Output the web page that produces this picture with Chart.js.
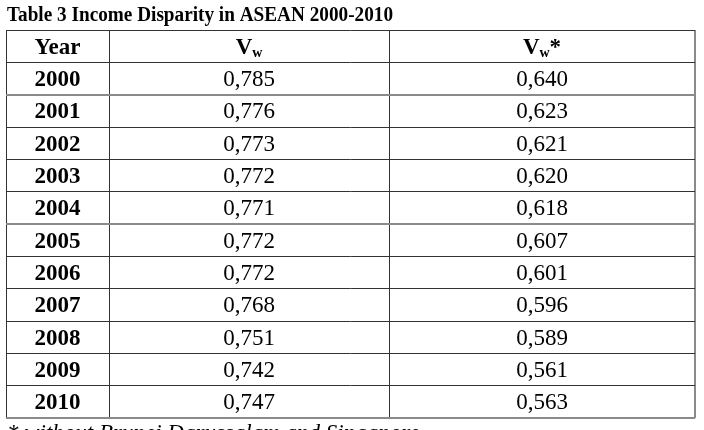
<!DOCTYPE html>
<html>
<head>
<meta charset="utf-8">
<script src="https://cdn.jsdelivr.net/npm/chart.js@4.4.1/dist/chart.umd.min.js"></script>
<style>
  html, body { margin: 0; padding: 0; background: #fff; }
  #wrap { width: 704px; height: 430px; position: relative; }
</style>
</head>
<body>
<div id="wrap"><canvas id="tbl"></canvas></div>
<script>
// ── Table data ───────────────────────────────────────────────────────────────
const TITLE    = 'Table 3 Income Disparity in ASEAN 2000-2010';
const FOOTNOTE = '* without Brunei Darussalam and Singapore';
const years    = ['2000','2001','2002','2003','2004','2005','2006','2007','2008','2009','2010'];
const vw       = [0.785, 0.776, 0.773, 0.772, 0.771, 0.772, 0.772, 0.768, 0.751, 0.742, 0.747];
const vwStar   = [0.640, 0.623, 0.621, 0.620, 0.618, 0.607, 0.601, 0.596, 0.589, 0.561, 0.563];

// column edges in x-scale units, rows are 1 unit each on y
const COL_EDGES = [0, 103, 383, 689];
const ROWS = years.length + 1;
const SERIF = '"Liberation Serif", "Times New Roman", serif';
const FS = 23;            // cell font size
const CAP = FS * 0.66;    // approx cap height

const colMid = c => (COL_EDGES[c] + COL_EDGES[c + 1]) / 2;
const fmt = v => v.toFixed(3).replace('.', ',');

function drawText(ctx, txt, x, y, font) {
  ctx.save();
  ctx.font = font;
  ctx.fillStyle = '#000';
  ctx.textAlign = 'center';
  ctx.textBaseline = 'alphabetic';
  ctx.fillText(txt, x, y + CAP / 2);
  ctx.restore();
}

// "V" + subscript "w" (+ optional "*")
function drawVw(ctx, x, y, star) {
  const big = `bold ${FS}px ${SERIF}`, small = `bold 14px ${SERIF}`;
  ctx.save();
  ctx.font = big;
  const wV = ctx.measureText('V').width;
  const wS = star ? ctx.measureText('*').width : 0;
  ctx.font = small;
  const wW = ctx.measureText('w').width;
  const x0 = x - (wV + wW + wS) / 2;
  const base = y + CAP / 2;
  ctx.fillStyle = '#000';
  ctx.textAlign = 'left';
  ctx.textBaseline = 'alphabetic';
  ctx.font = big;
  ctx.fillText('V', x0, base);
  ctx.font = small;
  ctx.fillText('w', x0 + wV, base + 3);
  if (star) { ctx.font = big; ctx.fillText('*', x0 + wV + wW, base); }
  ctx.restore();
}

const cellText = {
  id: 'cellText',
  afterDatasetsDraw(chart) {
    const ctx = chart.ctx;
    chart.data.datasets.forEach((ds, di) => {
      chart.getDatasetMeta(di).data.forEach((pt, i) => {
        const lab = ds.labels[i];
        if (lab === 'Vw' || lab === 'Vw*') drawVw(ctx, pt.x, pt.y, lab === 'Vw*');
        else drawText(ctx, lab, pt.x, pt.y, ds.font);
      });
    });
  },
  afterDraw(chart) {
    const ctx = chart.ctx;
    // title, fitted to the width it has in the scan
    ctx.save();
    ctx.fillStyle = '#000';
    ctx.font = `bold 20px ${SERIF}`;
    const sx = 386 / ctx.measureText(TITLE).width;
    ctx.translate(7, 21);
    ctx.scale(sx, 1);
    ctx.fillText(TITLE, 0, 0);
    ctx.restore();
    // footnote, cut off by the bottom edge
    ctx.save();
    ctx.fillStyle = '#000';
    ctx.font = `italic ${FS}px ${SERIF}`;
    ctx.fillText(FOOTNOTE, 7, 440);
    ctx.restore();
  },
};

const rowY = i => i + 1.5;
// the scan shows a few rules heavier and greyer than the rest
const HEAVY = [2, 6, 12];
const ruleColor = c => HEAVY.includes(c.tick.value) ? '#8a8a8a' : '#333';
const ruleWidth = c => HEAVY.includes(c.tick.value) ? 2 : 1;

new Chart(document.getElementById('tbl'), {
  type: 'scatter',
  data: {
    datasets: [
      {
        labels: ['Year', 'Vw', 'Vw*'],
        font: `bold ${FS}px ${SERIF}`,
        data: [0, 1, 2].map(c => ({ x: colMid(c), y: 0.5 })),
      },
      {
        labels: years,
        font: `bold ${FS}px ${SERIF}`,
        data: years.map((_, i) => ({ x: colMid(0), y: rowY(i) })),
      },
      {
        labels: vw.map(fmt),
        font: `${FS}px ${SERIF}`,
        data: vw.map((_, i) => ({ x: colMid(1), y: rowY(i) })),
      },
      {
        labels: vwStar.map(fmt),
        font: `${FS}px ${SERIF}`,
        data: vwStar.map((_, i) => ({ x: colMid(2), y: rowY(i) })),
      },
    ],
  },
  options: {
    responsive: true,
    maintainAspectRatio: false,
    animation: false,
    events: [],
    layout: { padding: { left: 6, right: 9, top: 30, bottom: 12 } },
    elements: { point: { radius: 0 } },
    plugins: { legend: { display: false }, tooltip: { enabled: false } },
    scales: {
      x: {
        type: 'linear', min: COL_EDGES[0], max: COL_EDGES[COL_EDGES.length - 1],
        afterBuildTicks: s => { s.ticks = COL_EDGES.map(v => ({ value: v })); },
        ticks: { display: false },
        grid: {
          drawTicks: false, lineWidth: c => c.tick.value === 689 ? 2 : 1,
          color: c => c.tick.value === 689 ? '#8a8a8a' : '#333',
        },
        border: { display: false },
      },
      y: {
        type: 'linear', min: 0, max: ROWS, reverse: true,
        ticks: { display: false, stepSize: 1 },
        grid: { drawTicks: false, color: ruleColor, lineWidth: ruleWidth },
        border: { display: false },
      },
    },
  },
  plugins: [cellText],
});
</script>
</body>
</html>
